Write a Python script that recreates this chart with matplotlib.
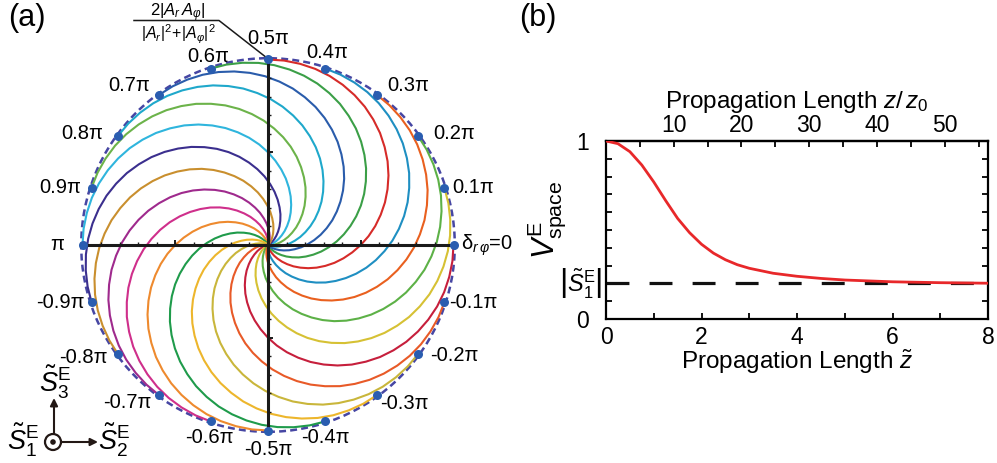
import numpy as np
import matplotlib
matplotlib.use("Agg")
import matplotlib.pyplot as plt
from matplotlib.patches import Circle

plt.rcParams['font.family'] = ['Liberation Sans', 'DejaVu Sans']
plt.rcParams['mathtext.fontset'] = 'custom'
plt.rcParams['mathtext.rm'] = 'Liberation Sans'
plt.rcParams['mathtext.it'] = 'Liberation Sans:italic'
plt.rcParams['mathtext.bf'] = 'Liberation Sans:bold'
plt.rcParams['lines.scale_dashes'] = False

# ---------------- data: panel (a) ----------------
# starting phase delta_r_phi of every trajectory (units of pi)
delta_start = [0.0, 0.1, 0.2, 0.3, 0.4, 0.5, 0.6, 0.7, 0.8, 0.9, 1.0,
               -0.9, -0.8, -0.7, -0.6, -0.5, -0.4, -0.3, -0.2, -0.1]
curve_colors = ['#c61f3c', '#d6c134', '#5db147', '#e9601f', '#1f8fc2',
                '#d62b29', '#3b9f47', '#2a5cab', '#1fa8cb', '#6cb34a',
                '#2fb5dd', '#3b2f8e', '#c98f2e', '#9f2a8d', '#cf2f8b',
                '#ee8a2e', '#1f9b4b', '#edb62c', '#c9b63b', '#e85a28']
# shape of one trajectory: radius vs clockwise phase turn (deg)
turn_deg = [0, 5, 10, 15, 20, 25, 30, 35, 40, 45, 50, 55, 60, 65, 70, 75,
            80, 85, 90, 95, 100, 105, 110, 115, 120, 125, 130, 135, 140,
            145, 150, 155, 160, 165, 170, 175, 180]
turn_radius = [1.000, 0.998, 0.992, 0.983, 0.970, 0.953, 0.933, 0.910,
               0.883, 0.854, 0.821, 0.787, 0.750, 0.711, 0.671, 0.629,
               0.587, 0.544, 0.500, 0.456, 0.413, 0.371, 0.329, 0.289,
               0.250, 0.213, 0.179, 0.146, 0.117, 0.090, 0.067, 0.047,
               0.030, 0.017, 0.008, 0.002, 0.000]
phase_labels = ['0.1π', '0.2π', '0.3π', '0.4π', '0.5π', '0.6π', '0.7π',
                '0.8π', '0.9π', 'π', '-0.9π', '-0.8π', '-0.7π', '-0.6π',
                '-0.5π', '-0.4π', '-0.3π', '-0.2π', '-0.1π']

# ---------------- data: panel (b) ----------------
z_tilde = [0.0, 0.25, 0.5, 0.75, 1.0, 1.25, 1.5, 1.75, 2.0, 2.25, 2.5,
           2.75, 3.0, 3.5, 4.0, 4.5, 5.0, 6.0, 7.0, 8.0]
v_space = [1.0, 0.985, 0.94, 0.865, 0.77, 0.665, 0.565, 0.485, 0.42,
           0.37, 0.333, 0.305, 0.285, 0.257, 0.240, 0.228, 0.219, 0.209,
           0.204, 0.201]
s1_level = 0.2
z_ratio = 7.05          # z/z0 per unit of z-tilde
top_ticks = [10, 20, 30, 40, 50]
bottom_ticks = [0, 2, 4, 6, 8]

# ---------------- layout ----------------
W, H = 997, 463
fig = plt.figure(figsize=(W / 100, H / 100), dpi=100)
CX, CY, RPX = 268.0, 245.0, 185.5


def fp(x, y):
    return (x / W, 1 - y / H)


def dp(x, y):
    return ((x - CX) / RPX, (CY - y) / RPX)


ax = fig.add_axes([0, 0, 500 / W, 1])
ax.set_xlim(-CX / RPX, (500 - CX) / RPX)
ax.set_ylim(-(H - CY) / RPX, CY / RPX)
ax.axis('off')

# dashed outer circle
ax.add_patch(Circle((0, 0), 1.007, fill=False, ec='#4646a3', lw=1.8,
                    ls=(0, (5.0, 3.0)), zorder=1))

phi = np.deg2rad(turn_deg)
rr = np.asarray(turn_radius)
for d0, col in zip(delta_start, curve_colors):
    th = d0 * np.pi - phi
    ax.plot(rr * np.cos(th), rr * np.sin(th), color=col, lw=1.5,
            solid_capstyle='round', zorder=2)

# cross axes with ticks
ax.plot([-1, 1], [0, 0], color='#1a1a1a', lw=2.2, zorder=3,
        solid_capstyle='butt')
ax.plot([0, 0], [-1, 1], color='#1a1a1a', lw=2.2, zorder=3,
        solid_capstyle='butt')
tk = np.arange(-9, 10) / 10.0
tk = tk[tk != 0]
ax.vlines(tk, 0, 0.018, color='#1a1a1a', lw=1.0, zorder=3)
ax.hlines(tk, 0, 0.018, color='#1a1a1a', lw=1.0, zorder=3)
ax.vlines([-0.5, 0.5], 0, 0.026, color='#1a1a1a', lw=1.4, zorder=3)
ax.hlines([-0.5, 0.5], 0, 0.026, color='#1a1a1a', lw=1.4, zorder=3)

# dots
dth = np.asarray(delta_start) * np.pi
ax.plot(np.cos(dth), np.sin(dth), 'o', color='#2a5db0', ms=6.5, zorder=5,
        mec='none')

# phase labels
lab_ang = [15.7, 31, 48.8, 73, 90, 107.5, 131, 149, 164.5, 180,
           -164.5, -148.5, -131.7, -107, -90, -73.5, -49.3, -30.7, -15.6]
lab_rad = [1.15, 1.17, 1.145, 1.085, 1.115, 1.068, 1.14, 1.17, 1.16, 1.135,
           1.16, 1.165, 1.14, 1.085, 1.10, 1.085, 1.125, 1.165, 1.15]
for t, a, r in zip(phase_labels, lab_ang, lab_rad):
    ax.text(r * np.cos(np.deg2rad(a)), r * np.sin(np.deg2rad(a)), t,
            ha='center', va='center', fontsize=14.5)
ax.text(1.040, 0, r'δ$_{r\,\varphi}$=0', ha='left', va='center',
        fontsize=14.5)

# fraction label with leader line
ax.plot(*zip(dp(134, 20.5), dp(219, 20.5), dp(267, 58)), color='#1a1a1a',
        lw=1.1, zorder=4)
ax.text(*dp(178, 16), r'$2|A_r\,A_\varphi|$', ha='center', va='baseline',
        fontsize=12)
ax.text(*dp(178, 39.5), r'$|A_r|^2\!+\!|A_\varphi|^2$', ha='center',
        va='baseline', fontsize=11.5)

fig.text(*fp(8, 18), '(a)', fontsize=22, ha='left', va='center')
fig.text(*fp(519, 18), '(b)', fontsize=22, ha='left', va='center')

# Stokes axes indicator
arrow_kw = dict(arrowstyle='-|>', color='#231815', lw=1.5,
                mutation_scale=11, shrinkA=0, shrinkB=0)
ax.annotate('', xy=fp(54, 398), xytext=fp(54, 433), xycoords='figure fraction',
            textcoords='figure fraction', arrowprops=arrow_kw)
ax.annotate('', xy=fp(98, 442), xytext=fp(62, 442), xycoords='figure fraction',
            textcoords='figure fraction', arrowprops=arrow_kw)
ax.add_patch(Circle(dp(53, 442), 8 / RPX, fill=False, ec='#231815', lw=1.6,
                    zorder=4))
ax.add_patch(Circle(dp(53, 442), 2.8 / RPX, fc='#231815', ec='none',
                    zorder=4))
ax.text(*dp(55, 382), r'$\tilde{S}_3^{\mathrm{E}}$', fontsize=19.5,
        ha='center', va='center')
ax.text(*dp(114, 440), r'$\tilde{S}_2^{\mathrm{E}}$', fontsize=19.5,
        ha='center', va='center')
ax.text(*dp(23, 440), r'$\tilde{S}_1^{\mathrm{E}}$', fontsize=19.5,
        ha='center', va='center')

# ---------------- panel (b) ----------------
bx0, bx1, by0, by1 = 606, 988, 141, 319
ax2 = fig.add_axes([bx0 / W, 1 - by1 / H, (bx1 - bx0) / W, (by1 - by0) / H])
ax2.set_xlim(0, 8)
ax2.set_ylim(0, 1)
ax2.axhline(s1_level, color='#111111', lw=2.3, dashes=(16.5, 14.5), zorder=2)
ax2.plot(z_tilde, v_space, color='#e8282a', lw=2.0, zorder=3)
for s in ax2.spines.values():
    s.set_linewidth(1.6)
ax2.set_xticks(bottom_ticks)
ax2.set_xticks([1, 3, 5, 7], minor=True)
ax2.set_yticks([0, 1])
ax2.set_yticks(np.arange(1, 10) / 10.0, minor=True)
ax2.tick_params(which='both', direction='in', length=4.5, width=1.3,
                right=True, labelsize=16.5)
ax2.tick_params(axis='x', pad=5)
ax2.tick_params(axis='y', pad=12)
ax2.text(-0.01, s1_level, r'$\left|\tilde{S}_1^{\mathrm{E}}\right|$',
         transform=ax2.get_yaxis_transform(), ha='right', va='center',
         fontsize=17)

sec = ax2.secondary_xaxis('top', functions=(lambda x: x * z_ratio,
                                             lambda x: x / z_ratio))
sec.set_xticks(top_ticks)
sec.set_xticks([5, 15, 25, 35, 45, 55], minor=True)
sec.tick_params(which='both', direction='in', length=4.5, width=1.3,
                labelsize=16.5, pad=3)
sec.spines['top'].set_linewidth(1.6)

fig.text(*fp(797, 102), r'Propagation Length $z/\,z_0$', fontsize=17.5,
         ha='center', va='center')
fig.text(*fp(797, 362), r'Propagation Length $\tilde{z}$', fontsize=17.5,
         ha='center', va='center')
fig.text(*fp(547, 220), r'$V_{\mathrm{space}}^{\mathrm{E}}$', fontsize=22,
         rotation=90, ha='center', va='center')

fig.savefig('out.png', dpi=100)
